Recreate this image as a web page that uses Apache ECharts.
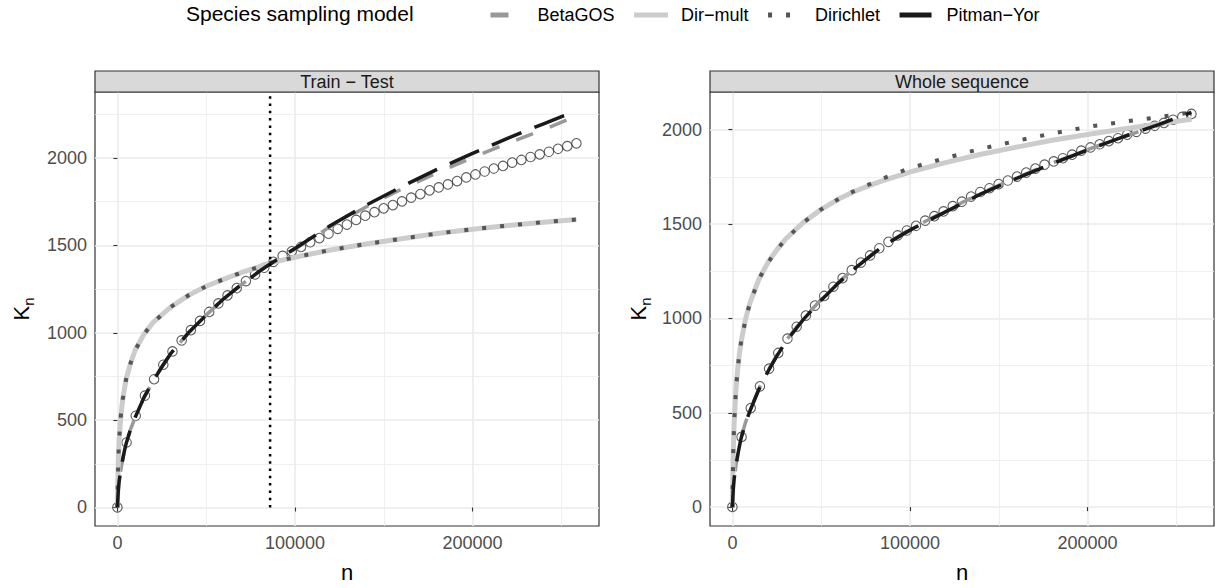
<!DOCTYPE html>
<html>
<head>
<meta charset="utf-8">
<script src="https://cdn.jsdelivr.net/npm/echarts@6/dist/echarts.min.js"></script>
<style>
html,body{margin:0;padding:0;background:#ffffff;}
#chart{width:1225px;height:588px;}
</style>
</head>
<body>
<div id="chart"></div>
<script>
// ---------------- data ----------------
const panelTitles = ['Train − Test', 'Whole sequence'];
const models = ['BetaGOS', 'Dir−mult', 'Dirichlet', 'Pitman−Yor'];
const legendTitle = 'Species sampling model';

const xTicks = [0, 100000, 200000];
const xMinorTicks = [50000, 150000, 250000];
const yTicks = [0, 500, 1000, 1500, 2000];
const yMinorTicksTrain = [250, 750, 1250, 1750, 2250];
const yMinorTicksWhole = [250, 750, 1250, 1750];

const xRange = [-12600, 271200];
const yRangeTrain = [-106, 2378];
const yRangeWhole = [-100, 2200];

const splitN = 86000; // end of the training part

// observed number of distinct species (open circles)
const nObs = [0, 5170, 10340, 15510, 20680, 25850, 31020, 36190, 41360, 46530, 51700, 56870, 62040, 67210, 72380, 77550, 82720, 87890, 93060, 98230, 103400, 108570, 113740, 118910, 124080, 129250, 134420, 139590, 144760, 149930, 155100, 160270, 165440, 170610, 175780, 180950, 186120, 191290, 196460, 201630, 206800, 211970, 217140, 222310, 227480, 232650, 237820, 242990, 248160, 253330, 258500];
const kObs = [1, 372, 525, 640, 734, 817, 893, 956, 1015, 1068, 1119, 1168, 1214, 1256, 1296, 1334, 1372, 1406, 1440, 1466, 1491, 1518, 1542, 1567, 1595, 1619, 1646, 1670, 1690, 1712, 1731, 1752, 1773, 1794, 1815, 1832, 1849, 1868, 1889, 1906, 1923, 1940, 1955, 1974, 1989, 2006, 2021, 2036, 2053, 2068, 2084];

// model curves
const nFit = [0, 500, 1000, 2000, 3000, 4000, 5000, 7500, 10000, 15000, 20000, 25000, 30000, 40000, 50000, 60000, 70000, 80000, 86000, 100000, 120000, 140000, 160000, 180000, 200000, 220000, 240000, 258500];

const trainBetaGOS   = [0, 95, 150, 220, 275, 325, 368, 450, 515, 630, 722, 804, 880, 1000, 1101, 1196, 1277, 1352, 1394, 1480, 1608, 1720, 1822, 1915, 2003, 2085, 2163, 2240];
const trainDirMult   = [0, 269, 391, 531, 618, 681, 738, 828, 900, 992, 1058, 1103, 1147, 1214, 1266, 1307, 1345, 1378, 1400, 1432, 1474, 1508, 1538, 1568, 1593, 1614, 1633, 1648];
const trainDirichlet = [0, 269, 391, 531, 618, 681, 738, 828, 900, 992, 1058, 1103, 1147, 1214, 1266, 1307, 1345, 1378, 1400, 1432, 1474, 1508, 1538, 1568, 1593, 1614, 1633, 1648];
const trainPitmanYor = [0, 95, 150, 220, 275, 325, 368, 450, 515, 630, 722, 804, 880, 1000, 1101, 1196, 1277, 1352, 1394, 1482, 1614, 1730, 1836, 1935, 2027, 2114, 2196, 2272];

const wholeBetaGOS   = [0, 95, 150, 222, 278, 328, 371, 452, 516, 630, 722, 804, 880, 1000, 1100, 1194, 1276, 1350, 1392, 1472, 1570, 1664, 1746, 1823, 1895, 1963, 2024, 2082];
const wholeDirMult   = [0, 297, 447, 622, 734, 816, 880, 1000, 1085, 1209, 1296, 1363, 1421, 1509, 1578, 1634, 1678, 1714, 1734, 1776, 1826, 1870, 1908, 1944, 1975, 2004, 2031, 2056];
const wholeDirichlet = [0, 297, 447, 622, 734, 816, 880, 1000, 1085, 1209, 1296, 1363, 1421, 1509, 1578, 1634, 1682, 1723, 1746, 1797, 1850, 1899, 1941, 1980, 2015, 2042, 2067, 2092];
const wholePitmanYor = [0, 95, 150, 220, 275, 325, 368, 450, 512, 625, 718, 800, 875, 995, 1097, 1190, 1273, 1348, 1390, 1468, 1565, 1660, 1742, 1820, 1893, 1962, 2027, 2092];

// ---------------- styles ----------------
const FONT = '"Liberation Sans", Arial, Helvetica, sans-serif';
const modelStyle = {
  'BetaGOS':    {color: '#999999', width: 3.5, type: [18, 18]},
  'Dir−mult':   {color: '#CCCCCC', width: 5,   type: 'solid'},
  'Dirichlet':  {color: '#555555', width: 4,   type: [4, 14]},
  'Pitman−Yor': {color: '#1A1A1A', width: 3.5, type: [32, 14]}
};
const curves = [
  [trainBetaGOS, trainDirMult, trainDirichlet, trainPitmanYor],
  [wholeBetaGOS, wholeDirMult, wholeDirichlet, wholePitmanYor]
];

const grids = [
  {left: 95, top: 92, width: 504, height: 437},
  {left: 710, top: 92, width: 504, height: 437}
];
const yRanges = [yRangeTrain, yRangeWhole];
const yMinor = [yMinorTicksTrain, yMinorTicksWhole];

function pairs(xs, ys) { return xs.map((x, i) => [x, ys[i]]); }

const xAxes = [], yAxes = [];
grids.forEach((g, p) => {
  xAxes.push({
    gridIndex: p, type: 'value', min: xRange[0], max: xRange[1],
    axisLine: {show: false},
    axisTick: {show: true, length: 4, lineStyle: {color: '#333333', width: 1.1}, customValues: xTicks},
    axisLabel: {customValues: xTicks, formatter: v => String(v), fontSize: 18, color: '#4D4D4D', fontFamily: FONT, margin: 8},
    splitLine: {show: true, lineStyle: {color: '#EBEBEB', width: 1.6}},
    name: 'n', nameLocation: 'middle', nameGap: 35,
    nameTextStyle: {fontSize: 22, color: '#000000', fontFamily: FONT}
  });
  yAxes.push({
    gridIndex: p, type: 'value', min: yRanges[p][0], max: yRanges[p][1],
    axisLine: {show: false},
    axisTick: {show: true, length: 4, lineStyle: {color: '#333333', width: 1.1}, customValues: yTicks},
    axisLabel: {customValues: yTicks, formatter: v => String(v), fontSize: 18, color: '#4D4D4D', fontFamily: FONT, margin: 8},
    splitLine: {show: true, lineStyle: {color: '#EBEBEB', width: 1.6}},
    name: '{k|K}{s|n}', nameLocation: 'middle', nameGap: p === 0 ? 59 : 57, nameRotate: 90,
    nameTextStyle: {
      fontFamily: FONT, color: '#000000',
      rich: {
        k: {fontSize: 22, lineHeight: 30, color: '#000000', fontFamily: FONT},
        s: {fontSize: 15, lineHeight: 12, verticalAlign: 'bottom', color: '#000000', fontFamily: FONT}
      }
    }
  });
});
// minor grid axes (hidden, only grid lines)
grids.forEach((g, p) => {
  xAxes.push({
    gridIndex: p, type: 'value', min: xRange[0], max: xRange[1], position: 'top',
    axisLine: {show: false}, axisTick: {show: false, customValues: xMinorTicks},
    axisLabel: {show: false, customValues: xMinorTicks},
    splitLine: {show: true, lineStyle: {color: '#EBEBEB', width: 0.8}}
  });
  yAxes.push({
    gridIndex: p, type: 'value', min: yRanges[p][0], max: yRanges[p][1], position: 'right',
    axisLine: {show: false}, axisTick: {show: false, customValues: yMinor[p]},
    axisLabel: {show: false, customValues: yMinor[p]},
    splitLine: {show: true, lineStyle: {color: '#EBEBEB', width: 0.8}}
  });
});

const series = [];
grids.forEach((g, p) => {
  series.push({
    name: 'Observed', type: 'scatter', xAxisIndex: p, yAxisIndex: p,
    data: pairs(nObs, kObs), symbol: 'circle', symbolSize: 9.5,
    itemStyle: {color: 'rgba(255,255,255,0)', borderColor: '#333333', borderWidth: 1.1},
    silent: true, z: 2
  });
  models.forEach((m, i) => {
    const st = modelStyle[m];
    series.push({
      name: m, type: 'line', xAxisIndex: p, yAxisIndex: p,
      data: pairs(nFit, curves[p][i]), showSymbol: false, symbol: 'none', smooth: false,
      lineStyle: {color: st.color, width: st.width, type: st.type, cap: 'butt'},
      itemStyle: {color: st.color},
      silent: true, z: 3
    });
  });
});
series.push({
  name: 'split', type: 'line', xAxisIndex: 0, yAxisIndex: 0,
  data: [[splitN, 0], [splitN, yRangeTrain[1]]], symbol: 'none',
  lineStyle: {color: '#000000', width: 2.5, type: [2.5, 4.8], cap: 'butt'},
  silent: true, z: 4
});

const graphics = [{
  type: 'text', left: 186, top: 3,
  style: {text: legendTitle, fontSize: 21, fontFamily: FONT, fill: '#000000'}
}];
grids.forEach((g, p) => {
  graphics.push({
    type: 'rect', shape: {x: g.left, y: 71, width: g.width, height: 21},
    style: {fill: '#D9D9D9', stroke: '#333333', lineWidth: 1.2}, z: 10
  });
  graphics.push({
    type: 'text', x: g.left + g.width / 2, y: 82,
    style: {text: panelTitles[p], fontSize: 18, fontFamily: FONT, fill: '#1A1A1A', align: 'center', verticalAlign: 'middle'}, z: 11
  });
});

const chart = echarts.init(document.getElementById('chart'), null, {renderer: 'svg'});
chart.setOption({
  animation: false,
  backgroundColor: '#ffffff',
  textStyle: {fontFamily: FONT},
  grid: grids.map(g => Object.assign({show: true, borderColor: '#333333', borderWidth: 1.2, backgroundColor: '#ffffff'}, g)),
  xAxis: xAxes,
  yAxis: yAxes,
  legend: {
    left: 483, top: 1, itemWidth: 34, itemHeight: 16, itemGap: 17, selectedMode: false,
    data: models.map(m => ({
      name: m,
      itemStyle: {color: 'rgba(0,0,0,0)', opacity: 0, borderWidth: 0},
      lineStyle: {color: modelStyle[m].color, width: 5, type: modelStyle[m].type, cap: 'butt'}
    })),
    textStyle: {fontSize: 18, color: '#000000', fontFamily: FONT, padding: [0, 0, 0, 8]}
  },
  graphic: graphics,
  series: series
});
</script>
</body>
</html>
